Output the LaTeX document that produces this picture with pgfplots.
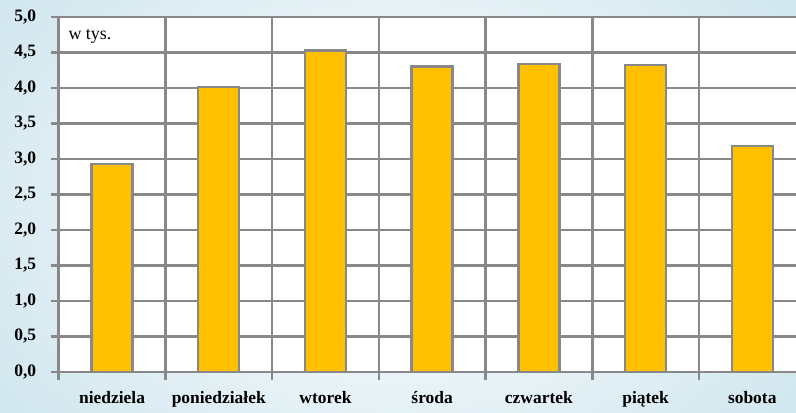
\documentclass[border=0pt]{standalone}
\usepackage{pgfplots}
\pgfplotsset{compat=1.18}
\usepackage{fontspec}
\setmainfont{Liberation Serif}
\definecolor{barfill}{RGB}{255,192,0}
\definecolor{gridc}{RGB}{136,136,136}
\definecolor{bgblue}{RGB}{208,230,238}
\begin{document}
\begin{tikzpicture}[x=1bp,y=1bp]
\clip (0,0) rectangle (796,412);
\shade[inner color=white, outer color=bgblue] (-100,-150) rectangle (896,562);
\begin{axis}[
  at={(58.7bp,40bp)}, anchor=south west,
  scale only axis, width=737.3bp, height=355bp,
  xmin=-0.5, xmax=6.41, ymin=0, ymax=5,
  axis background/.style={fill=white},
  axis x line*=bottom, axis y line*=left,
  axis line style={gridc, line width=2.6bp, -},
  xtick={-0.5,0.5,...,5.5}, xticklabels={},
  extra x ticks={0,1,2,3,4,5,6},
  extra x tick labels={niedziela,poniedziałek,wtorek,środa,czwartek,piątek,sobota},
  extra x tick style={grid=none, major tick length=0pt, tick style={draw=none}},
  ytick={0,0.5,...,5},
  xmajorgrids, ymajorgrids,
  grid style={gridc, line width=2.6bp},
  tick style={gridc, line width=2.6bp},
  tick align=outside, major tick length=8bp,
  /pgf/number format/assume math mode=true,
  /pgf/number format/.cd, use comma, fixed, fixed zerofill, precision=1, /pgfplots/.cd,
  tick label style={font=\fontsize{17.5}{20}\selectfont\bfseries, text=black},
  x tick label style={yshift=-16bp},
  y tick label style={xshift=-11bp},
  ybar, bar width=0.385,
  clip=false,
]
\addplot[fill=barfill, draw=gridc, line width=2.4bp] coordinates {
  (0,2.93) (1,4.01) (2,4.53) (3,4.30) (4,4.34) (5,4.32) (6,3.18)
};
\node[anchor=west, font=\fontsize{18}{20}\selectfont, inner sep=0pt] at (axis cs:-0.41,4.72) {w tys.};
\end{axis}
\end{tikzpicture}
\end{document}
